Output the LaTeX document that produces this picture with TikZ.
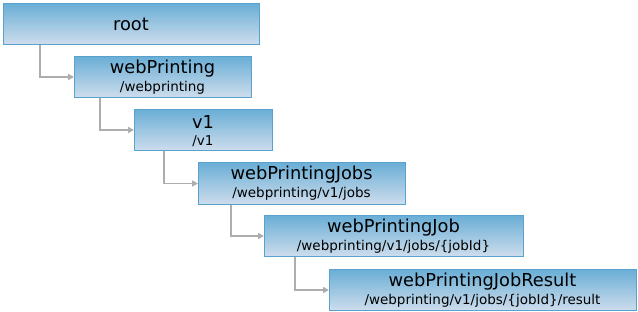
\documentclass[tikz,border=0pt]{standalone}
\usepackage{fontspec}
\setmainfont{DejaVu Sans}
\usetikzlibrary{arrows.meta}
\definecolor{boxtop}{HTML}{6AAED6}
\definecolor{boxbot}{HTML}{CEDDEC}
\definecolor{boxline}{HTML}{5AA2CE}
\definecolor{linkgray}{HTML}{ADADAD}
\tikzset{
  res/.style={draw=boxline, line width=1pt, top color=boxtop, bottom color=boxbot, rectangle, inner sep=0pt},
  ttl/.style={font=\fontsize{17.8}{20}\selectfont, text=black},
  sub/.style={font=\fontsize{13.5}{15}\selectfont, text=black},
  link/.style={draw=linkgray, line width=1.5pt, -{Triangle[length=6pt,width=6pt]}}
}
\begin{document}
\begin{tikzpicture}[x=1pt,y=1pt]
\useasboundingbox (0,0) rectangle (638,312);
\node[res, minimum width=256, minimum height=41, anchor=north west] (root) at (3,309) {};
\node[ttl] (roott) at (131,288) {root};

\node[res, minimum width=177, minimum height=41, anchor=north west] (wp) at (74,256) {};
\node[ttl] (wpt) at (162.5,243) {webPrinting};
\node[sub] (wps) at (162.5,224) {/webprinting};

\node[res, minimum width=138, minimum height=41, anchor=north west] (v1) at (134,203) {};
\node[ttl] (v1t) at (203,190) {v1};
\node[sub] (v1s) at (203,171) {/v1};

\node[res, minimum width=207, minimum height=42, anchor=north west] (jobs) at (198,150) {};
\node[ttl] (jobst) at (301.5,137) {webPrintingJobs};
\node[sub] (jobss) at (301.5,118) {/webprinting/v1/jobs};

\node[res, minimum width=259, minimum height=41, anchor=north west] (job) at (264,97) {};
\node[ttl] (jobt) at (393.5,84) {webPrintingJob};
\node[sub] (jobs2) at (393.5,65) {/webprinting/v1/jobs/\{jobId\}};

\node[res, minimum width=307, minimum height=41, anchor=north west] (res) at (329,43) {};
\node[ttl] (rest) at (482.5,30) {webPrintingJobResult};
\node[sub] (ress) at (482.5,11) {/webprinting/v1/jobs/\{jobId\}/result};

\draw[link] (root.south west) ++(37,0) |- (wp.west);
\draw[link] (wp.south west) ++(26,0) |- (v1.west);
\draw[link] (v1.south west) ++(30,0) |- (jobs.west);
\draw[link] (jobs.south west) ++(33,0) |- (job.west);
\draw[link] (job.south west) ++(31,0) |- (res.west);
\end{tikzpicture}
\end{document}
